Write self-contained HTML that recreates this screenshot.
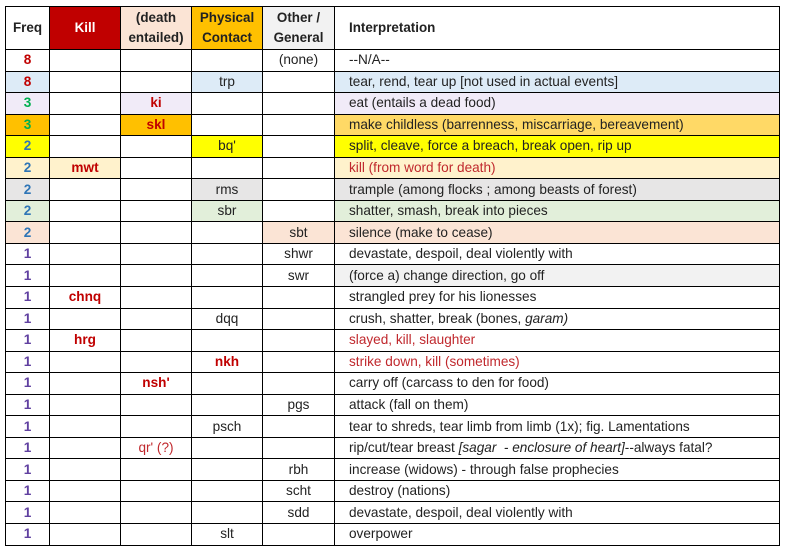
<!DOCTYPE html>
<html><head><meta charset="utf-8"><style>
body{margin:0;background:#fff;width:786px;height:552px;overflow:hidden;font-family:"Liberation Sans",sans-serif;}
table{position:absolute;left:5px;top:6px;border-collapse:collapse;table-layout:fixed;width:774px;}
td{border:1px solid #000;padding:0;height:20.55px;font-size:13.6px;color:#222;text-align:center;white-space:nowrap;overflow:hidden;line-height:20px}
td.i{text-align:left;padding-left:14px}
tr.h td{height:42px;font-weight:bold;line-height:20px;font-size:13.4px}
.f{font-weight:bold}
.r8{color:#c00000}.g{color:#00b050}.b{color:#2e75b6}.p{color:#6040a0}
.rk{color:#c00000;font-weight:bold}
.red{color:#c0282d}
</style></head><body>
<table>
<colgroup><col style="width:44px"><col style="width:71px"><col style="width:71px"><col style="width:71px"><col style="width:72px"><col style="width:445px"></colgroup>
<tr class="h"><td>Freq</td><td style="background:#c00000;color:#fff">Kill</td><td style="background:#fbe4d5">(death<br>entailed)</td><td style="background:#ffc000">Physical<br>Contact</td><td style="background:#f2f2f2">Other /<br>General</td><td class="i">Interpretation</td></tr>
<tr><td class="f r8">8</td><td></td><td></td><td></td><td>(none)</td><td class="i">--N/A--</td></tr>
<tr><td class="f r8" style="background:#ddebf7">8</td><td></td><td></td><td style="background:#ddebf7">trp</td><td></td><td class="i" style="background:#ddebf7">tear, rend, tear up [not used in actual events]</td></tr>
<tr><td class="f g" style="background:#f1ebf8">3</td><td></td><td class="rk" style="background:#f1ebf8">ki</td><td></td><td></td><td class="i" style="background:#f1ebf8">eat (entails a dead food)</td></tr>
<tr><td class="f g" style="background:#ffc000">3</td><td></td><td class="rk" style="background:#ffc000">skl</td><td></td><td></td><td class="i" style="background:#ffd966">make childless (barrenness, miscarriage, bereavement)</td></tr>
<tr><td class="f b" style="background:#ffff00">2</td><td></td><td></td><td style="background:#ffff00">bq'</td><td></td><td class="i" style="background:#ffff00">split, cleave, force a breach, break open, rip up</td></tr>
<tr><td class="f b" style="background:#fff2cc">2</td><td class="rk" style="background:#fff2cc">mwt</td><td></td><td></td><td></td><td class="i red" style="background:#fff2cc">kill (from word for death)</td></tr>
<tr><td class="f b" style="background:#e7e6e6">2</td><td></td><td></td><td style="background:#e7e6e6">rms</td><td></td><td class="i" style="background:#e7e6e6">trample (among flocks ; among beasts of forest)</td></tr>
<tr><td class="f b" style="background:#e2efda">2</td><td></td><td></td><td style="background:#e2efda">sbr</td><td></td><td class="i" style="background:#e2efda">shatter, smash, break into pieces</td></tr>
<tr><td class="f b" style="background:#fbe4d5">2</td><td></td><td></td><td></td><td style="background:#fbe4d5">sbt</td><td class="i" style="background:#fbe4d5">silence (make to cease)</td></tr>
<tr><td class="f p">1</td><td></td><td></td><td></td><td>shwr</td><td class="i">devastate, despoil, deal violently with</td></tr>
<tr><td class="f p">1</td><td></td><td></td><td></td><td>swr</td><td class="i" style="background:#f2f2f2">(force a) change direction, go off</td></tr>
<tr><td class="f p">1</td><td class="rk">chnq</td><td></td><td></td><td></td><td class="i">strangled prey for his lionesses</td></tr>
<tr><td class="f p">1</td><td></td><td></td><td>dqq</td><td></td><td class="i">crush, shatter, break (bones, <i>garam)</i></td></tr>
<tr><td class="f p">1</td><td class="rk">hrg</td><td></td><td></td><td></td><td class="i red">slayed, kill, slaughter</td></tr>
<tr><td class="f p">1</td><td></td><td></td><td class="rk">nkh</td><td></td><td class="i red">strike down, kill (sometimes)</td></tr>
<tr><td class="f p">1</td><td></td><td class="rk">nsh'</td><td></td><td></td><td class="i">carry off (carcass to den for food)</td></tr>
<tr><td class="f p">1</td><td></td><td></td><td></td><td>pgs</td><td class="i">attack (fall on them)</td></tr>
<tr><td class="f p">1</td><td></td><td></td><td>psch</td><td></td><td class="i">tear to shreds, tear limb from limb (1x); fig. Lamentations</td></tr>
<tr><td class="f p">1</td><td></td><td class="red">qr' (?)</td><td></td><td></td><td class="i">rip/cut/tear breast <i>[sagar&nbsp; - enclosure of heart]</i>--always fatal?</td></tr>
<tr><td class="f p">1</td><td></td><td></td><td></td><td>rbh</td><td class="i">increase (widows) - through false prophecies</td></tr>
<tr><td class="f p">1</td><td></td><td></td><td></td><td>scht</td><td class="i">destroy (nations)</td></tr>
<tr><td class="f p">1</td><td></td><td></td><td></td><td>sdd</td><td class="i">devastate, despoil, deal violently with</td></tr>
<tr><td class="f p">1</td><td></td><td></td><td>slt</td><td></td><td class="i">overpower</td></tr>
</table>
</body></html>
